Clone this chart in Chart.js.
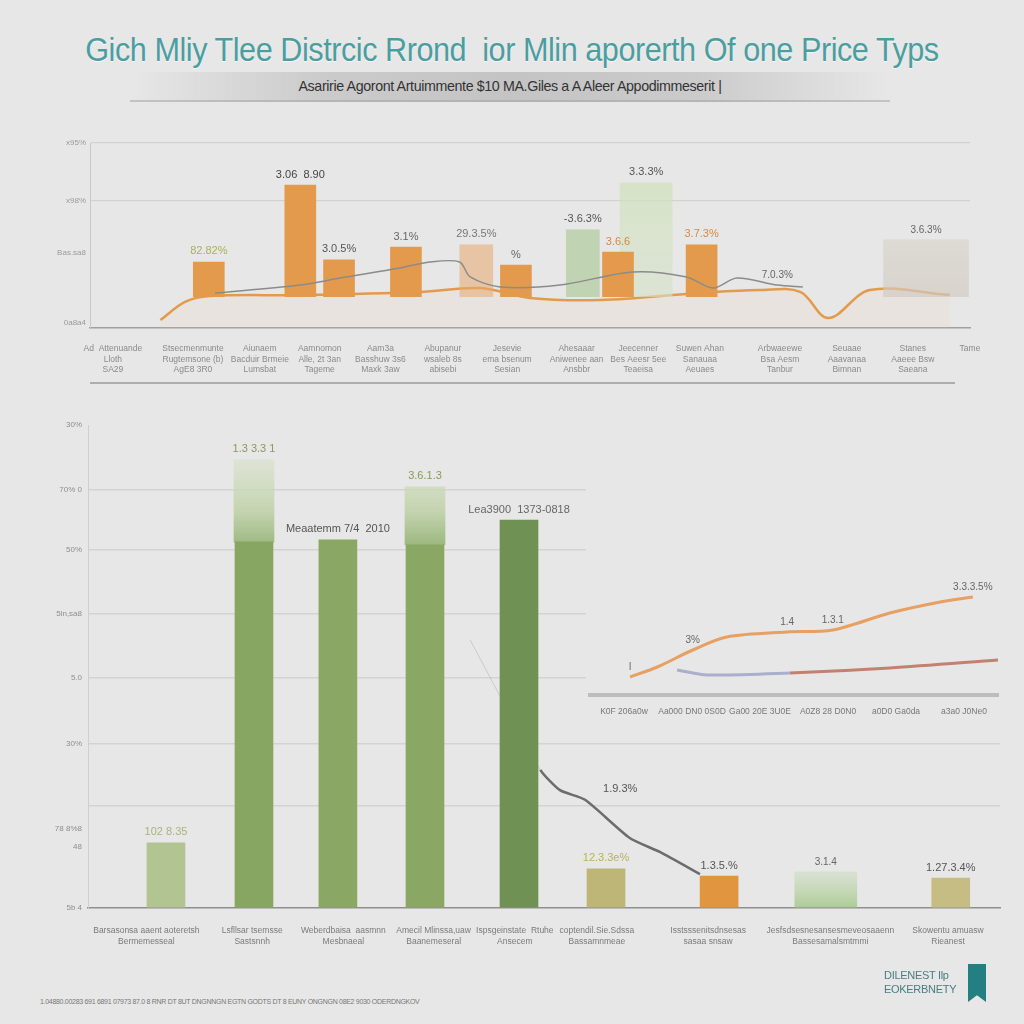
<!DOCTYPE html>
<html>
<head>
<meta charset="utf-8">
<script src="https://cdn.jsdelivr.net/npm/chart.js@4.4.0/dist/chart.umd.min.js"></script>
<style>
  html, body { margin: 0; padding: 0; }
  body {
    width: 1024px; height: 1024px; position: relative; overflow: hidden;
    background: #e7e7e7;
    font-family: "Liberation Sans", sans-serif;
  }
  #title {
    position: absolute; top: 30px; left: 0; width: 1024px; text-align: center;
    font-size: 34px; color: #4b9ea0; letter-spacing: -0.5px;
    transform: scaleX(0.9); transform-origin: 512px 0;
    text-shadow: 0 1px 1px rgba(255,255,255,0.7);
  }
  #sub {
    position: absolute; top: 72px; left: 130px; width: 760px; height: 28px;
    background: linear-gradient(90deg, rgba(205,205,205,0), #cbcbcb 25%, #c4c4c4 50%, #cbcbcb 75%, rgba(205,205,205,0));
    border-bottom: 2px solid rgba(160,160,160,0.5);
  }
  #subText {
    text-align: center; font-size: 15px; line-height: 28px; color: #333; letter-spacing: -0.4px;
    transform: scaleX(0.95);
  }
  canvas { position: absolute; }
  #topChart { left: 0; top: 130px; }
  #mainChart { left: 0; top: 410px; }
  #inset { left: 586px; top: 420px; background: #e7e7e7; }
  #foot { position: absolute; left: 40px; top: 998px; font-size: 7px; color: #777; letter-spacing: -0.3px; }
  #logo { position: absolute; left: 884px; top: 968px; font-size: 11px; line-height: 14px; color: #4b7d82; letter-spacing: -0.3px; }
  #flag {
    position: absolute; left: 968px; top: 964px; width: 18px; height: 38px; background: #237f82;
    clip-path: polygon(0 0, 100% 0, 100% 100%, 50% 82%, 0 100%);
  }
</style>
</head>
<body>
<div id="title">Gich Mliy Tlee Distrcic Rrond&nbsp; ior Mlin aporerth Of one Price Typs</div>
<div id="sub"><div id="subText">Asaririe Agoront Artuimmente $10 MA.Giles a A Aleer Appodimmeserit |</div></div>
<canvas id="topChart" width="1024" height="260"></canvas>
<canvas id="mainChart" width="1024" height="560"></canvas>
<canvas id="inset" width="430" height="300"></canvas>
<div id="foot">1.04880.00283 691 6891 07973 87.0 8 RNR DT 8UT DNGNNGN EGTN GODTS DT 8 EUNY ONGNGN 08E2 9030 ODERDNGKOV</div>
<div id="logo">DILENEST Ilp<br>EOKERBNETY</div>
<div id="flag"></div>

<script>
// ---- top chart data ----
const topCats = [
  ['Ad  Attenuande', 'Lloth', 'SA29'], ['Stsecmenmunte', 'Rugtemsone (b)', 'AgE8 3R0'], ['Aiunaem', 'Bacduir Brmeie', 'Lumsbat'],
  ['Aamnomon', 'Alle, 2t 3an', 'Tageme'], ['Aam3a', 'Basshuw 3s6', 'Maxk 3aw'], ['Abupanur', 'wsaleb 8s', 'abisebi'],
  ['Jesevie', 'ema bsenum', 'Sesian'], ['Ahesaaar', 'Aniwenee aan', 'Ansbbr'], ['Jeecenner', 'Bes Aeesr 5ee', 'Teaeisa'],
  ['Suwen Ahan', 'Sanauaa', 'Aeuaes'], ['Arbwaeewe', 'Bsa Aesm', 'Tanbur'], ['Seuaae', 'Aaavanaa', 'Bimnan'],
  ['Stanes', 'Aaeee Bsw', 'Saeana'], ['Tame']
];
const topCatX = [2.6, 11.7, 19.3, 26.1, 33, 40.1, 47.4, 55.3, 62.3, 69.3, 78.4, 86, 93.5, 100];
const topYTicks = [2.7, 40.5, 69, 100];
const topYLabels = ['0a8a4', 'Bas.sa8', 'x98%', 'x95%'];

const orangeBarX = [13.5, 23.9, 28.3, 35.9, 48.4, 60, 69.5];
const orangeBarTop = [35.7, 77.3, 36.8, 43.8, 34, 41, 44.9];
const orangeBarText = ['82.82%', '3.06  8.90', '3.0.5%', '3.1%', '%', '3.6.6', '3.7.3%'];
const fadedBarX = [43.9, 56];
const fadedBarTop = [44.9, 53];
const fadedBarText = ['29.3.5%', '-3.6.3%'];
const tallBarX = [63.2];
const tallBarTop = [78.4];
const tallBarText = ['3.3.3%'];
const wideBarX = [95];
const wideBarTop = [47.6];
const wideBarText = ['3.6.3%'];
const barBase = 17;

const orangeLineX = [8, 10.8, 13.6, 23.9, 37.5, 44.3, 50, 58, 69.3, 76.1, 80.7, 83.9, 88.6, 97.7];
const orangeLineY = [4.3, 14.1, 17.3, 17.8, 19.5, 21.6, 16.2, 15.1, 18.9, 20.5, 19.5, 5.4, 20.5, 17.8];
const grayLineX = [14.2, 23.9, 28.4, 35.2, 38.6, 42, 43.2, 46.6, 53.4, 61.7, 67.8, 70.8, 73.5, 78.1, 81];
const grayLineY = [18.9, 23.2, 27, 32.4, 35.7, 35.7, 27.6, 22.2, 23.2, 30.3, 27.6, 21.6, 27, 23.2, 22.2];
const grayLineText = ['', '', '', '', '', '', '', '', '', '', '', '', '', '7.0.3%', ''];

// ---- main chart data ----
const mainCats = [
  ['Barsasonsa aaent aoteretsh', 'Bermemesseal'], ['Lsfllsar tsemsse', 'Sastsnnh'], ['Weberdbaisa  aasmnn', 'Mesbnaeal'],
  ['Amecil Mlinssa,uaw', 'Baanemeseral'], ['Ispsgeinstate  Rtuhe', 'Ansecem'], ['coptendil.Sie.Sdssa', 'Bassamnmeae'],
  ['Isstsssenitsdnsesas', 'sasaa snsaw'], ['Jesfsdsesnesansesmeveosaaenn', 'Bassesamalsmtmmi'], ['Skowentu amuasw', 'Rieanest']
];
const mainCatX = [6.4, 18, 28, 37.9, 46.8, 55.8, 68, 81.4, 94.3];
const mainYTicks = [0, 12.6, 16.4, 21.1, 34, 47.6, 60.9, 74.1, 86.5, 100];
const mainYLabels = ['5b 4', '48', '78 8%8', '', '30%', '5.0', '5ln,sa8', '50%', '70% 0', '30%'];

const solidBarX = [8.55, 18.2, 27.4, 36.95, 47.26, 56.8, 69.2, 94.6];
const solidBarVal = [13.5, 75.8, 76.2, 75.2, 80.3, 8.1, 6.6, 6.2];
const solidBarText = ['102 8.35', '', 'Meaatemm 7/4  2010', '', 'Lea3900  1373-0818', '12.3.3e%', '1.3.5.%', '1.27.3.4%'];
const solidBarColor = ['#b3c493', '#87a661', '#8aa863', '#8aa863', '#6f9254', '#bdb677', '#e0953e', '#c5bd83'];
const topFadeX = [18.2, 36.95];
const topFadeLow = [75.8, 75.2];
const topFadeHigh = [92.8, 87.2];
const topFadeText = ['1.3 3.3 1', '3.6.1.3'];
const softBarX = [80.9];
const softBarVal = [7.5];
const softBarText = ['3.1.4'];

const dropLineX = [41.9, 49.6, 51.75, 54.5, 59.4, 62.7, 67.1];
const dropLineY = [55.5, 28.6, 24.4, 22.4, 14.5, 11.6, 7];
const dropLineText = ['', '', '', '1.9.3%', '', '', ''];

// ---- inset line chart data ----
const insetCats = ['K0F 206a0w', 'Aa000 DN0 0S0D', 'Ga00 20E 3U0E', 'A0Z8 28 D0N0', 'a0D0 Ga0da', 'a3a0 J0Ne0'];
const upperX = [0.09, 0.49, 1.01, 1.51, 2.4, 3.07, 3.91, 4.65, 5.13];
const upperY = [18, 28, 45, 58, 63, 65, 82, 93, 98];
const upperText = ['l', '', '3%', '', '1.4', '1.3.1', '', '', '3.3.3.5%'];
const lowerX = [0.78, 1.22, 2.44, 3.91, 5.5];
const lowerY = [25, 20, 22, 27, 35];

const FONT = '"Liberation Sans", sans-serif';

// labels drawn above each mark from dataset.valueText
const valueLabels = {
  id: 'valueLabels',
  afterDatasetsDraw(chart) {
    const ctx = chart.ctx;
    chart.data.datasets.forEach((ds, i) => {
      if (!ds.valueText) return;
      const meta = chart.getDatasetMeta(i);
      meta.data.forEach((el, j) => {
        const t = ds.valueText[j];
        if (!t) return;
        ctx.save();
        ctx.font = (ds.valueSize || 11) + 'px ' + FONT;
        ctx.fillStyle = Array.isArray(ds.valueColor) ? ds.valueColor[j] : (ds.valueColor || '#555');
        ctx.textAlign = ds.valueAlign || 'center';
        ctx.textBaseline = 'bottom';
        ctx.fillText(t, el.x + (ds.valueDx || 0), el.y - 5);
        ctx.restore();
      });
    });
  }
};

// rule under the category labels
const underRule = {
  id: 'underRule',
  afterDraw(chart, args, opts) {
    if (!opts.show) return;
    const x = chart.scales.x, ctx = chart.ctx;
    ctx.save();
    ctx.strokeStyle = '#9a9a9a';
    ctx.lineWidth = 1.5;
    ctx.beginPath();
    ctx.moveTo(chart.chartArea.left, x.bottom);
    ctx.lineTo(chart.chartArea.right - 15, x.bottom);
    ctx.stroke();
    ctx.restore();
  }
};

function vGrad(ctx, chart, top, bottom) {
  const area = chart.chartArea;
  if (!area) return bottom;
  const g = ctx.createLinearGradient(0, area.top, 0, area.bottom);
  g.addColorStop(0, top);
  g.addColorStop(1, bottom);
  return g;
}

function fixedTicks(values) {
  return (axis) => { axis.ticks = values.map(v => ({ value: v })); };
}

Chart.defaults.font.family = FONT;
Chart.defaults.animation = false;

// ---------- top chart ----------
new Chart(document.getElementById('topChart'), {
  type: 'bar',
  data: {
    datasets: [
      {
        type: 'line', order: 5,
        data: orangeLineX.map((x, i) => ({ x, y: orangeLineY[i] })),
        borderColor: '#e39a4c', borderWidth: 2.5, pointRadius: 0, tension: 0.35,
        fill: 'origin', backgroundColor: 'rgba(240,200,160,0.12)'
      },
      {
        order: 4, grouped: false, barThickness: 85,
        data: wideBarX.map((x, i) => ({ x, y: [barBase, wideBarTop[i]] })),
        backgroundColor: (c) => vGrad(c.chart.ctx, c.chart, 'rgba(225,218,210,0.5)', 'rgba(205,198,188,0.7)'),
        valueText: wideBarText, valueColor: '#666', valueSize: 10
      },
      {
        order: 4, grouped: false, barThickness: 52,
        data: tallBarX.map((x, i) => ({ x, y: [barBase, tallBarTop[i]] })),
        backgroundColor: (c) => vGrad(c.chart.ctx, c.chart, 'rgba(205,225,180,0.7)', 'rgba(215,225,205,0.6)'),
        valueText: tallBarText, valueColor: '#555'
      },
      {
        order: 3, grouped: false, barThickness: 33,
        data: fadedBarX.map((x, i) => ({ x, y: [barBase, fadedBarTop[i]] })),
        backgroundColor: ['rgba(232,170,110,0.55)', 'rgba(160,195,135,0.55)'],
        valueText: fadedBarText, valueColor: ['#777', '#555']
      },
      {
        order: 2, grouped: false, barThickness: 31,
        data: orangeBarX.map((x, i) => ({ x, y: [barBase, orangeBarTop[i]] })),
        backgroundColor: '#e39a4c',
        valueText: orangeBarText,
        valueColor: ['#a9b25a', '#444', '#555', '#666', '#666', '#d48a45', '#d48a45']
      },
      {
        type: 'line', order: 0,
        data: grayLineX.map((x, i) => ({ x, y: grayLineY[i] })),
        borderColor: '#8b8b8b', borderWidth: 1.5, pointRadius: 0, tension: 0.3,
        valueText: grayLineText, valueColor: '#666', valueSize: 10
      }
    ]
  },
  options: {
    responsive: false,
    layout: { padding: { top: 13, right: 54, bottom: 7, left: 0 } },
    plugins: { legend: { display: false }, tooltip: { enabled: false }, underRule: { show: true } },
    scales: {
      x: {
        type: 'linear', min: 0, max: 100, offset: false,
        afterBuildTicks: fixedTicks(topCatX),
        afterFit: (s) => { s.height = 55; },
        grid: { display: false },
        border: { color: '#a0a0a0', width: 1.5 },
        ticks: {
          autoSkip: false, maxRotation: 0, padding: 8, color: '#8a8a8a',
          font: { size: 8.5 }, callback: (v, i) => topCats[i]
        }
      },
      y: {
        min: 0, max: 100,
        afterBuildTicks: fixedTicks(topYTicks),
        afterFit: (s) => { s.width = 90; },
        grid: {
          color: (c) => (c.tick && c.tick.value >= 69) ? '#d2d2d2' : 'rgba(0,0,0,0)',
          lineWidth: 1.2, drawTicks: false
        },
        border: { color: '#c8c8c8' },
        ticks: { color: '#9a9a9a', font: { size: 8 }, padding: 4, callback: (v, i) => topYLabels[i] }
      }
    }
  },
  plugins: [valueLabels, underRule]
});

// ---------- main bar chart ----------
new Chart(document.getElementById('mainChart'), {
  type: 'bar',
  data: {
    datasets: [
      {
        type: 'line', order: 6,
        data: dropLineX.map((x, i) => ({ x, y: dropLineY[i] })),
        borderColor: '#6c6c6c', borderWidth: 2.5, pointRadius: 0, tension: 0.2,
        segment: { borderColor: (c) => c.p0DataIndex === 0 ? 'rgba(150,150,150,0.35)' : '#6c6c6c',
                   borderWidth: (c) => c.p0DataIndex === 0 ? 1 : 2.5 },
        valueText: dropLineText, valueColor: '#555', valueAlign: 'left', valueDx: 18, valueSize: 11
      },
      {
        order: 3, grouped: false, barThickness: 62,
        data: softBarX.map((x, i) => ({ x, y: softBarVal[i] })),
        backgroundColor: (c) => {
          const ch = c.chart;
          if (!ch.chartArea) return '#b8d3a0';
          const y = ch.scales.y;
          const g = ch.ctx.createLinearGradient(0, y.getPixelForValue(softBarVal[0]), 0, y.getPixelForValue(0));
          g.addColorStop(0, 'rgba(190,215,170,0.35)');
          g.addColorStop(1, 'rgba(165,200,140,0.9)');
          return g;
        },
        valueText: softBarText, valueColor: '#666', valueSize: 10
      },
      {
        order: 2, grouped: false, barThickness: 40,
        data: topFadeX.map((x, i) => ({ x, y: [topFadeLow[i], topFadeHigh[i]] })),
        backgroundColor: (c) => {
          const ch = c.chart;
          if (!ch.chartArea) return '#c5d4ae';
          const y = ch.scales.y;
          const g = ch.ctx.createLinearGradient(0, y.getPixelForValue(93), 0, y.getPixelForValue(75));
          g.addColorStop(0, 'rgba(215,225,200,0.6)');
          g.addColorStop(0.6, 'rgba(190,208,165,0.85)');
          g.addColorStop(1, 'rgba(150,180,120,0.95)');
          return g;
        },
        valueText: topFadeText, valueColor: '#8a9a55', valueSize: 11
      },
      {
        order: 1, grouped: false, barThickness: 38,
        data: solidBarX.map((x, i) => ({ x, y: solidBarVal[i] })),
        backgroundColor: solidBarColor,
        valueText: solidBarText,
        valueColor: ['#a8b57a', '#555', '#555', '#555', '#666', '#b8b25a', '#555', '#555'],
        valueSize: 11
      }
    ]
  },
  options: {
    responsive: false,
    layout: { padding: { top: 15, right: 24, bottom: 0, left: 0 } },
    plugins: { legend: { display: false }, tooltip: { enabled: false } },
    scales: {
      x: {
        type: 'linear', min: 0, max: 100, offset: false,
        afterBuildTicks: fixedTicks(mainCatX),
        afterFit: (s) => { s.height = 62; },
        grid: { display: false },
        border: { color: '#8f8f8f', width: 1.5 },
        ticks: {
          autoSkip: false, maxRotation: 0, padding: 10, color: '#7a7a7a',
          font: { size: 8.5 }, callback: (v, i) => mainCats[i]
        }
      },
      y: {
        min: 0, max: 100,
        afterBuildTicks: fixedTicks(mainYTicks),
        afterFit: (s) => { s.width = 88; },
        grid: {
          color: (c) => (c.tick && c.tick.value > 20 && c.tick.value < 90) ? '#d3d3d3' : 'rgba(0,0,0,0)',
          lineWidth: 1.5, drawTicks: false
        },
        border: { color: '#cfcfcf' },
        ticks: { color: '#8e8e8e', font: { size: 8 }, padding: 6, callback: (v, i) => mainYLabels[i] }
      }
    }
  },
  plugins: [valueLabels]
});

// ---------- inset line chart ----------
new Chart(document.getElementById('inset'), {
  type: 'line',
  data: {
    datasets: [
      {
        data: lowerX.map((x, i) => ({ x, y: lowerY[i] })),
        borderWidth: 3, pointRadius: 0, tension: 0.3,
        borderColor: '#aab0cc',
        segment: { borderColor: (c) => c.p0DataIndex >= 2 ? '#c2826f' : '#aab0cc' }
      },
      {
        data: upperX.map((x, i) => ({ x, y: upperY[i] })),
        borderColor: '#e8a062', borderWidth: 3, pointRadius: 0, tension: 0.3,
        valueText: upperText, valueColor: '#666', valueSize: 10
      }
    ]
  },
  options: {
    responsive: false,
    layout: { padding: { top: 165, right: 18, bottom: 0, left: 4 } },
    plugins: { legend: { display: false }, tooltip: { enabled: false } },
    scales: {
      x: {
        type: 'linear', min: -0.5, max: 5.5,
        afterBuildTicks: fixedTicks([0, 1, 2, 3, 4, 5]),
        afterFit: (s) => { s.height = 25; },
        grid: { display: false },
        border: { color: '#bdbdbd', width: 4 },
        ticks: { autoSkip: false, maxRotation: 0, padding: 4, color: '#777', font: { size: 8.5 }, callback: (v, i) => insetCats[i] }
      },
      y: { display: false, min: 0, max: 110 }
    }
  },
  plugins: [valueLabels]
});
</script>
</body>
</html>
